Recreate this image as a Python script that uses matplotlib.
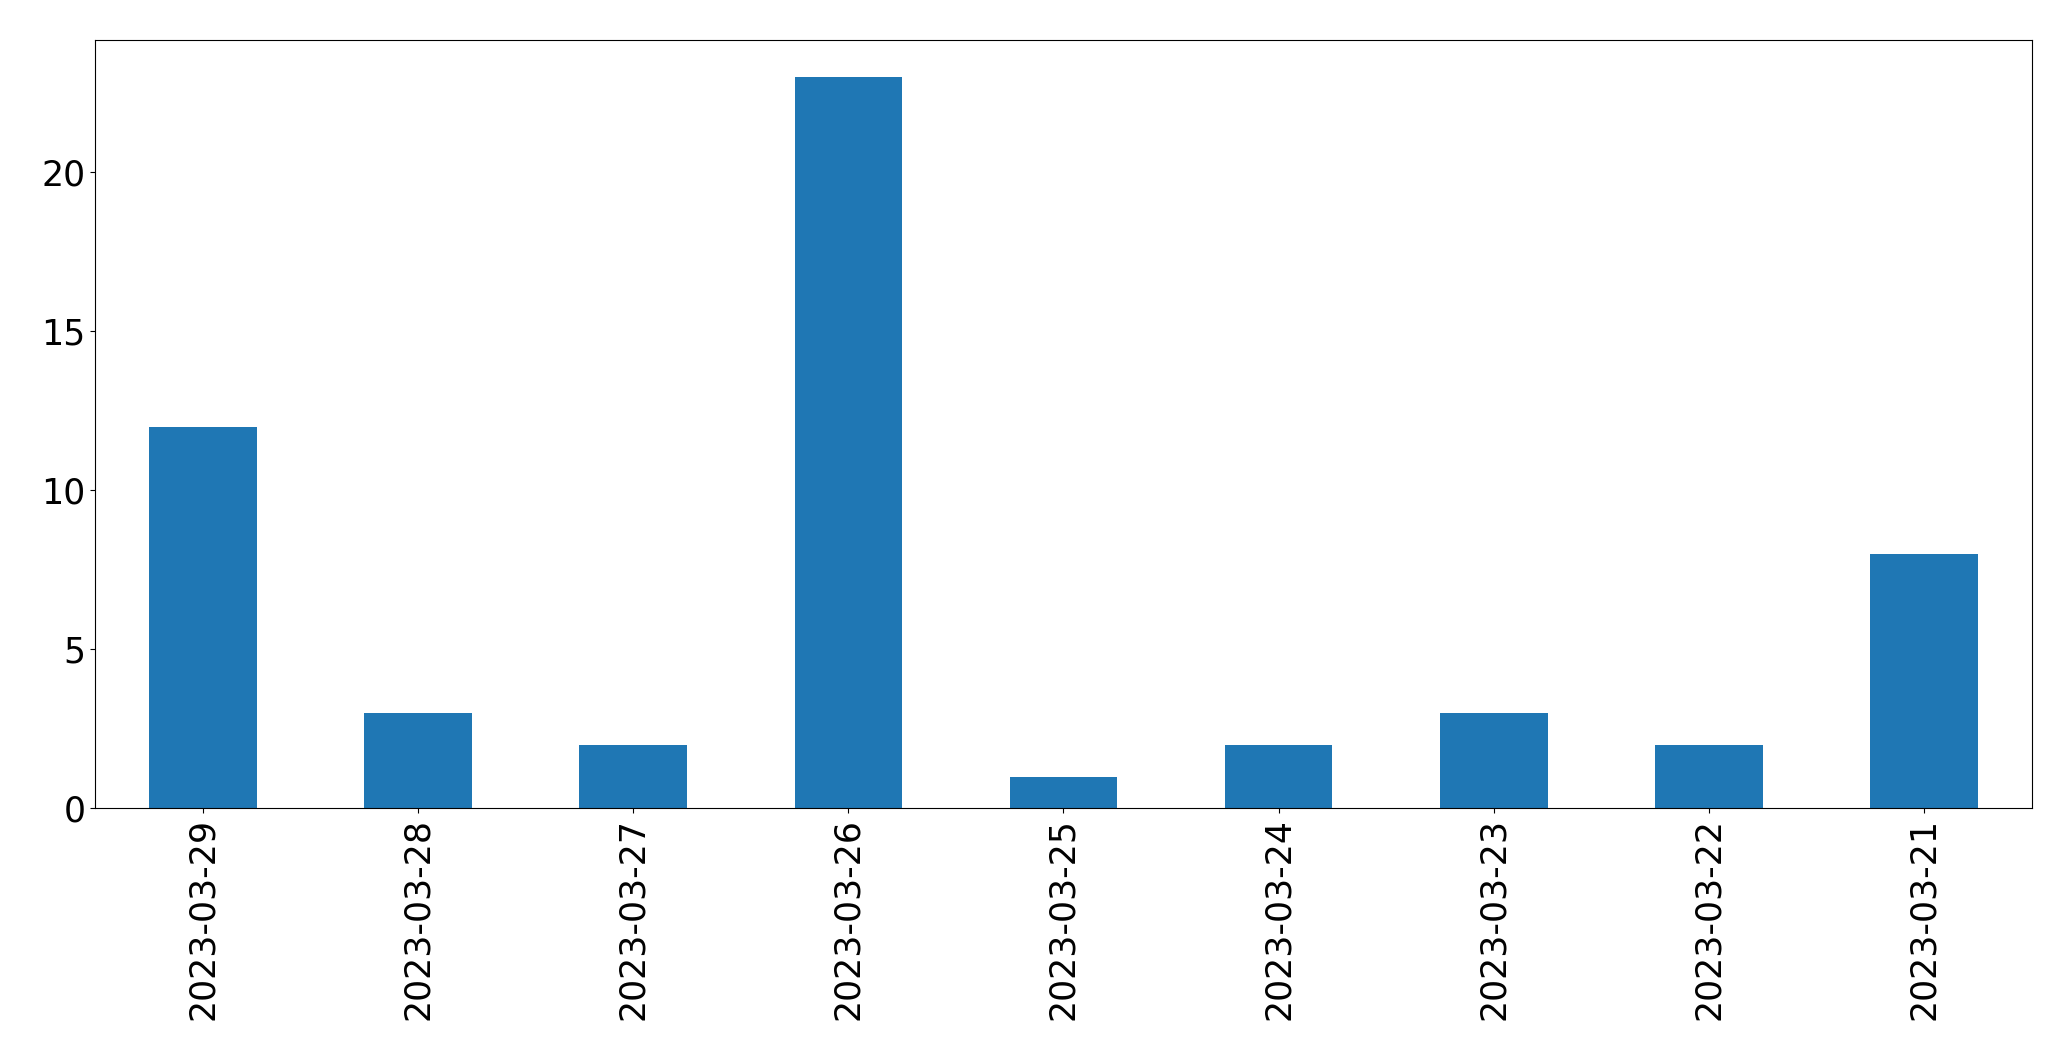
import matplotlib
matplotlib.use('Agg')
import matplotlib.pyplot as plt
import numpy as np

# data
dates = ['2023-03-29', '2023-03-28', '2023-03-27', '2023-03-26', '2023-03-25',
         '2023-03-24', '2023-03-23', '2023-03-22', '2023-03-21']
counts = [12, 3, 2, 23, 1, 2, 3, 2, 8]

fig, ax = plt.subplots(figsize=(20.71, 10.61), dpi=100)
x = np.arange(len(dates))
ax.bar(x, counts, width=0.5, color='#1f77b4')
ax.set_xticks(x)
ax.set_xticklabels(dates, rotation=90)
ax.set_xlim(-0.5, len(dates) - 0.5)
ax.tick_params(axis='both', labelsize=25)

plt.subplots_adjust(left=0.046, right=0.981, top=0.962, bottom=0.238)
plt.savefig('out.png')
